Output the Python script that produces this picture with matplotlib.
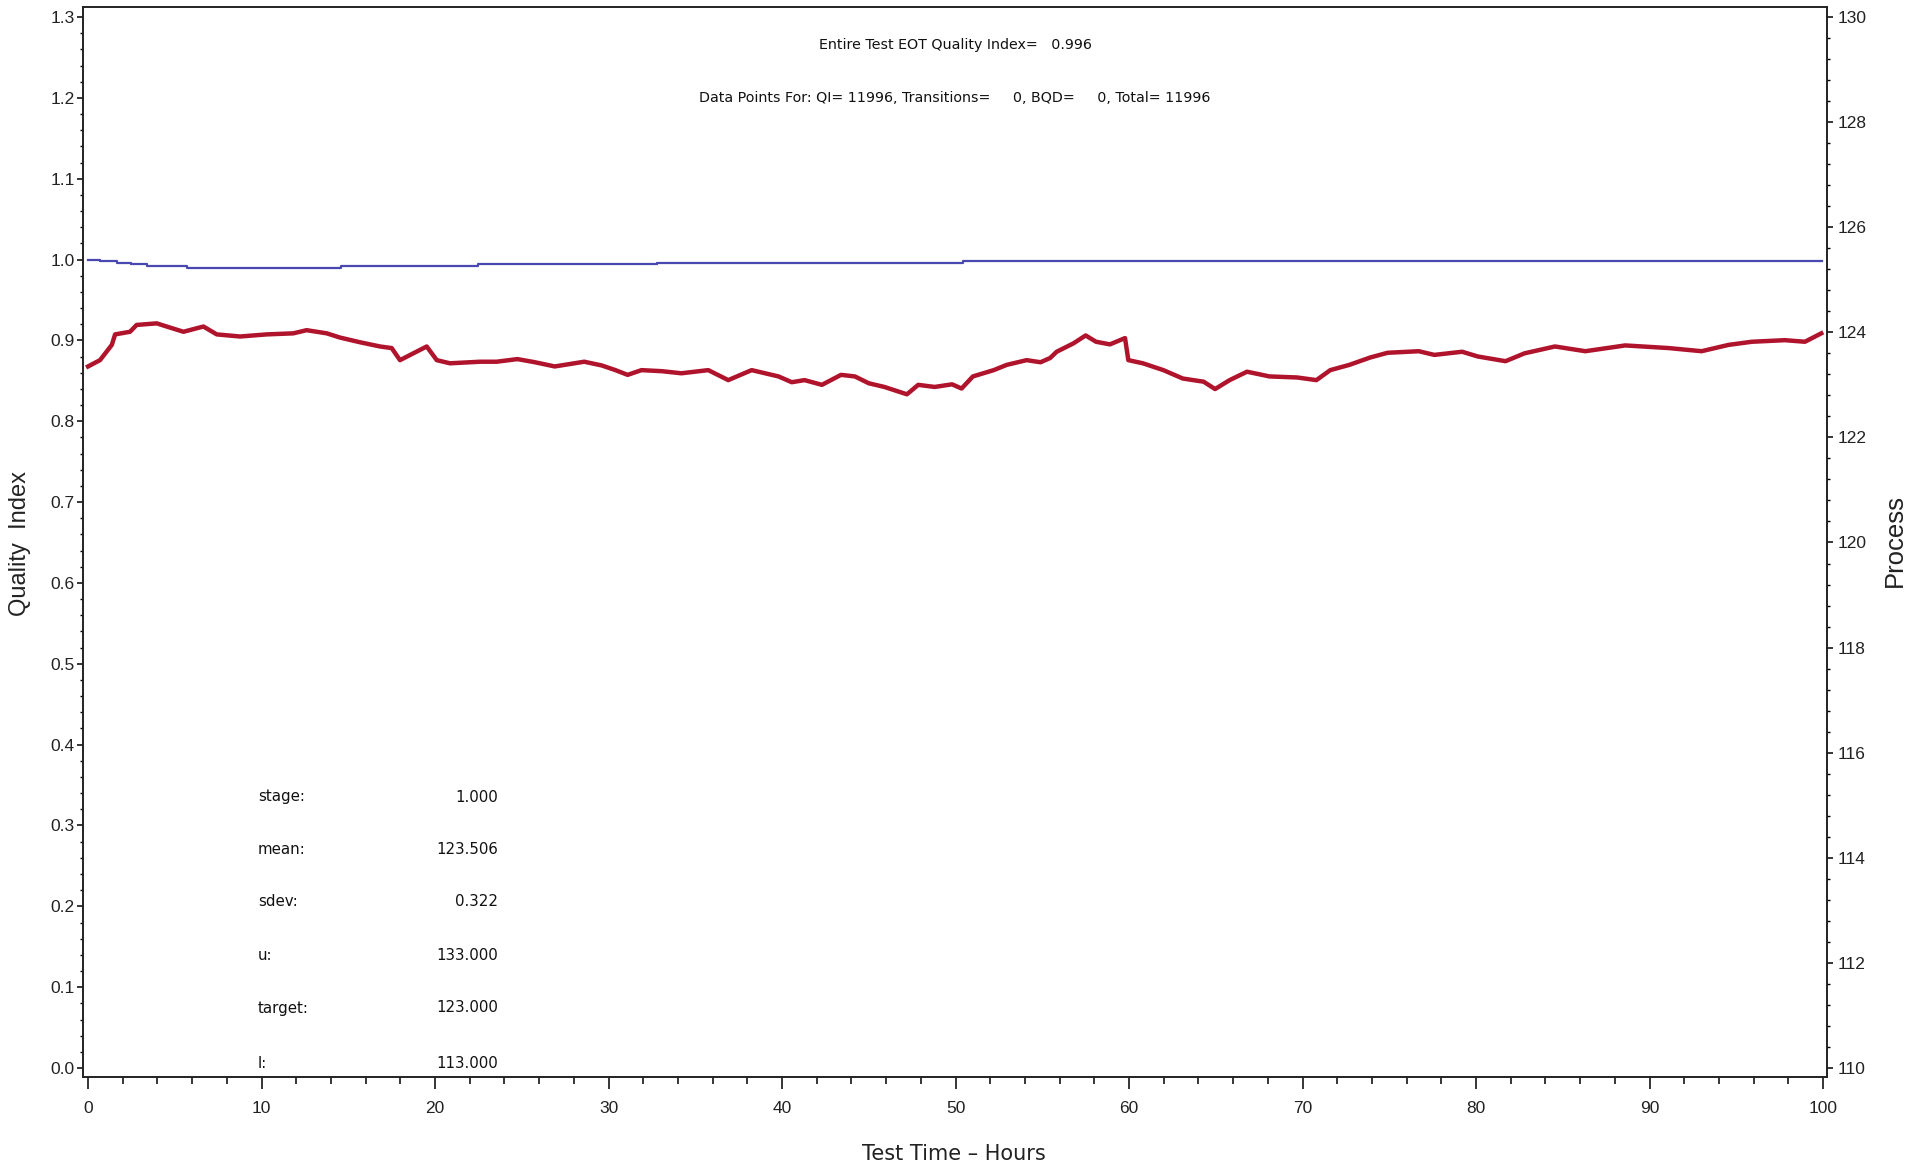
import matplotlib
matplotlib.use('Agg')
import matplotlib.pyplot as plt
from matplotlib.ticker import MultipleLocator, FormatStrFormatter

# Process (right axis) trace
red_hours = [0.0, 0.69, 1.37, 1.56, 2.42, 2.8, 3.96, 4.53, 5.5, 6.65, 7.42, 8.76,
             10.3, 11.83, 12.6, 13.76, 14.52, 15.68, 16.83, 17.5, 17.98, 18.75,
             19.52, 20.1, 20.86, 22.6, 23.55, 24.75, 25.76, 26.9, 28.6, 29.6,
             30.4, 31.1, 31.9, 33.07, 34.2, 35.75, 36.9, 38.25, 39.8, 40.56,
             41.3, 42.3, 43.4, 44.2, 45.0, 45.9, 47.2, 47.85, 48.8, 49.8, 50.35,
             51.0, 52.2, 52.95, 54.1, 54.9, 55.45, 55.83, 56.8, 57.5, 58.1, 58.9,
             59.77, 59.96, 60.8, 61.98, 63.1, 64.3, 64.96, 65.8, 66.8, 68.1, 69.7,
             70.8, 71.6, 72.7, 73.9, 74.9, 76.7, 77.6, 79.2, 80.1, 81.7, 82.8,
             84.55, 86.3, 88.6, 91.1, 93.0, 94.55, 95.9, 97.8, 98.96, 99.9]
red_proc = [123.35, 123.47, 123.76, 123.96, 124.01, 124.14, 124.17, 124.11, 124.01,
            124.11, 123.96, 123.92, 123.96, 123.98, 124.04, 123.98, 123.90, 123.81,
            123.73, 123.70, 123.47, 123.60, 123.73, 123.47, 123.41, 123.44, 123.44,
            123.49, 123.43, 123.35, 123.44, 123.37, 123.28, 123.19, 123.28, 123.26,
            123.22, 123.28, 123.09, 123.28, 123.16, 123.05, 123.09, 123.00, 123.19,
            123.16, 123.03, 122.96, 122.82, 123.00, 122.96, 123.01, 122.93, 123.16,
            123.28, 123.38, 123.47, 123.43, 123.51, 123.63, 123.79, 123.94, 123.82,
            123.77, 123.89, 123.47, 123.41, 123.28, 123.12, 123.06, 122.92, 123.09,
            123.25, 123.16, 123.14, 123.09, 123.28, 123.38, 123.52, 123.61, 123.64,
            123.57, 123.63, 123.54, 123.45, 123.60, 123.73, 123.64, 123.75, 123.70,
            123.64, 123.76, 123.82, 123.85, 123.82, 123.98]

# cumulative quality index (left axis), stepwise
qi_hours = [0.0, 0.69, 1.65, 2.5, 3.4, 5.7, 14.6, 22.5, 32.8, 50.45, 99.95]
qi_vals = [1.000, 0.998, 0.996, 0.994, 0.992, 0.990, 0.992, 0.994, 0.9955, 0.998, 0.998]

stat_names = ['stage:', 'mean:', 'sdev:', 'u:', 'target:', 'l:']
stat_vals = ['1.000', '123.506', '0.322', '133.000', '123.000', '113.000']

tick_font = ['Liberation Sans', 'DejaVu Sans']

W, H = 1925, 1169
fig = plt.figure(figsize=(W / 100, H / 100), dpi=100)
ax = fig.add_axes([83 / W, 1 - 1077 / H, (1827 - 83) / W, (1077 - 7) / H])
ax2 = ax.twinx()

ax.step(qi_hours, qi_vals, where='post', color='#4848B0', linewidth=1.6, zorder=3)
ax2.plot(red_hours, red_proc, color='#B0142C', linewidth=3.2)

ax.set_xlim(-0.29, 100.23)
ax.set_ylim(-0.0111, 1.3124)
ax2.set_ylim(109.829, 130.19)

ax.xaxis.set_major_locator(MultipleLocator(10))
ax.xaxis.set_minor_locator(MultipleLocator(2))
ax.yaxis.set_major_locator(MultipleLocator(0.1))
ax.yaxis.set_minor_locator(MultipleLocator(0.02))
ax.yaxis.set_major_formatter(FormatStrFormatter('%.1f'))
ax2.yaxis.set_major_locator(MultipleLocator(2))
ax2.yaxis.set_minor_locator(MultipleLocator(0.4))

ax.tick_params(axis='x', which='major', direction='out', length=8.5, width=1.1, pad=9, labelsize=12.5)
ax.tick_params(axis='x', which='minor', direction='out', length=5, width=1.1)
ax.tick_params(axis='y', which='major', direction='out', length=4.5, width=1.1, pad=1.5, labelsize=12.5)
ax.tick_params(axis='y', which='minor', direction='out', length=2.5, width=1.0)
ax2.tick_params(axis='y', which='major', direction='out', length=4.5, width=1.1, pad=3, labelsize=12.5)
ax2.tick_params(axis='y', which='minor', direction='out', length=2.5, width=1.0)
for lab in ax.get_xticklabels() + ax.get_yticklabels() + ax2.get_yticklabels():
    lab.set_family(tick_font)
    lab.set_color('#222222')

for a in (ax, ax2):
    for s in a.spines.values():
        s.set_linewidth(1.2)
        s.set_color('#222222')

# axis labels
fig.text(20 / W, 1 - 543 / H, 'Quality  Index', rotation=90, ha='center', va='center',
         fontsize=17, family=tick_font, color='#222222')
fig.text(1895 / W, 1 - 540 / H, 'Process', rotation=90, ha='center', va='center',
         fontsize=18.5, family=tick_font, color='#222222')
fig.text(954 / W, 1 - 1154 / H, 'Test Time \u2013 Hours', ha='center', va='center',
         fontsize=15, color='#222222')

# header text
fig.text(955 / W, 1 - 45 / H, 'Entire Test EOT Quality Index=   0.996', ha='center',
         va='center', fontsize=10.3, color='#111111')
fig.text(955 / W, 1 - 98 / H,
         'Data Points For: QI= 11996, Transitions=     0, BQD=     0, Total= 11996',
         ha='center', va='center', fontsize=10.3, color='#111111')

# stats block
stat_y = [797, 850, 902, 955, 1008, 1063]
for name, val, yy in zip(stat_names, stat_vals, stat_y):
    fig.text(258 / W, 1 - yy / H, name, ha='left', va='center', fontsize=10.8,
             color='#111111')
    fig.text(498 / W, 1 - yy / H, val, ha='right', va='center', fontsize=10.8,
             color='#111111')

fig.savefig('out.png', dpi=100)
